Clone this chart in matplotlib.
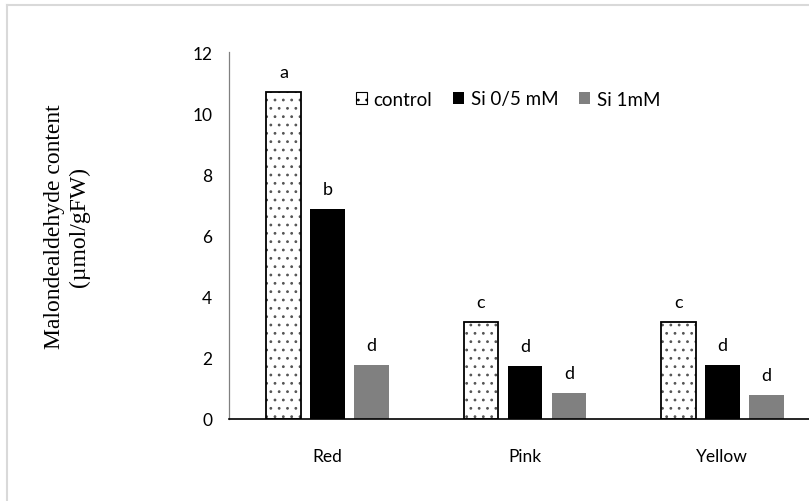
import matplotlib
matplotlib.use("Agg")
import matplotlib.pyplot as plt
from matplotlib.patches import Patch
from matplotlib.lines import Line2D
import numpy as np

# data
colours = ["Red", "Pink", "Yellow"]
control = [10.7, 3.17, 3.17]
si_05 = [6.87, 1.72, 1.77]
si_1 = [1.77, 0.84, 0.78]
letters_control = ["a", "c", "c"]
letters_si_05 = ["b", "d", "d"]
letters_si_1 = ["d", "d", "d"]
series_names = ["control", "Si 0/5 mM", "Si 1mM"]
yticks = [0, 2, 4, 6, 8, 10, 12]

plt.rcParams['font.family'] = ['Lato', 'DejaVu Sans']
plt.rcParams['hatch.linewidth'] = 0.8

fig = plt.figure(figsize=(8.09, 5.02), dpi=100)
ax = fig.add_axes([229/809, 82/502, 592/809, 367/502])

x = np.arange(len(colours))
w = 0.177
off = 0.223

# dotted fill first, then the black outline on top
ax.bar(x - off, control, w, facecolor="white", edgecolor="#555555",
       linewidth=0, hatch="..")
b1 = ax.bar(x - off, control, w, facecolor="none", edgecolor="black",
            linewidth=1.3)
b2 = ax.bar(x, si_05, w, color="black")
b3 = ax.bar(x + off, si_1, w, color="#808080")

for bars, labs in [(b1, letters_control), (b2, letters_si_05), (b3, letters_si_1)]:
    for rect, lab in zip(bars, labs):
        ax.annotate(lab, (rect.get_x() + rect.get_width()/2, rect.get_height()),
                    xytext=(0, 14.5), textcoords="offset points",
                    ha="center", va="center", fontsize=13)

ax.set_xlim(-0.5, 2.5)
ax.set_ylim(0, 12)
ax.set_yticks(yticks)
ax.set_xticks(x)
ax.set_xticklabels(colours)
ax.tick_params(axis="both", length=0, labelsize=12.5)
ax.tick_params(axis="y", pad=12)
ax.tick_params(axis="x", pad=21)
for s in ["top", "right"]:
    ax.spines[s].set_visible(False)
ax.spines["left"].set_color("#808080")
ax.spines["left"].set_linewidth(0.9)
ax.spines["bottom"].set_color("black")
ax.spines["bottom"].set_linewidth(1.2)

handles = [Patch(facecolor="white", edgecolor="black", hatch="..", linewidth=0.8),
           Patch(facecolor="black"), Patch(facecolor="#808080")]
ax.legend(handles, series_names, ncol=3, frameon=False, fontsize=13.5,
          loc="center", bbox_to_anchor=(508/809, 1 - 100/502),
          bbox_transform=fig.transFigure, handlelength=0.6, handleheight=0.6,
          handletextpad=0.35, columnspacing=1.1)

fig.text(67/809, 1 - 227/502, "Malondealdehyde content\n(\u00b5mol/gFW)",
         rotation=90, ha="center", va="center", fontsize=17,
         family=["Liberation Serif", "DejaVu Serif"], linespacing=1.2)

# light frame at top and left
fig.add_artist(Line2D([7/809, 1], [1 - 6/502, 1 - 6/502], color="#d9d9d9", lw=1.5,
                      transform=fig.transFigure))
fig.add_artist(Line2D([7/809, 7/809], [0, 1 - 6/502], color="#d9d9d9", lw=1.5,
                      transform=fig.transFigure))

fig.savefig("out.png", dpi=100)
